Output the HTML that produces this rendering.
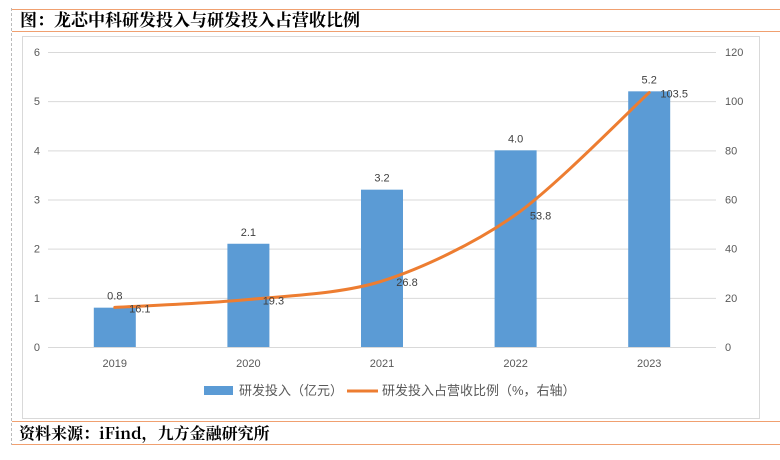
<!DOCTYPE html>
<html><head><meta charset="utf-8"><style>
body{margin:0;background:#fff;width:780px;height:455px;overflow:hidden;font-family:"Liberation Sans","Noto Sans CJK SC",sans-serif}
</style></head><body>
<svg width="780" height="455" xmlns="http://www.w3.org/2000/svg">
<line x1="11.5" y1="8" x2="11.5" y2="445" stroke="#bbb" stroke-dasharray="3,2"/>
<line x1="12" y1="9.5" x2="780" y2="9.5" stroke="#f0a070"/>
<line x1="12" y1="31.5" x2="780" y2="31.5" stroke="#f0a070"/>
<text x="20" y="26" font-size="17" font-weight="bold" fill="#000" font-family="'Noto Serif CJK SC','Noto Sans CJK SC',serif">图：龙芯中科研发投入与研发投入占营收比例</text>
<rect x="22.5" y="36.5" width="737" height="382" fill="#fff" stroke="#d9d9d9"/>
<g id="grid"></g><g id="bars"></g><g id="line"></g><g id="labels"></g>
<rect x="204" y="386" width="29" height="9" fill="#5b9bd5"/>
<text x="239" y="395" font-size="13" fill="#595959">研发投入（亿元）</text>
<line x1="347" y1="391" x2="378" y2="391" stroke="#ed7d31" stroke-width="3"/>
<text x="382" y="395" font-size="13" fill="#595959">研发投入占营收比例（%，右轴）</text>
<line x1="12" y1="421.5" x2="780" y2="421.5" stroke="#f0a070"/>
<line x1="12" y1="444.5" x2="780" y2="444.5" stroke="#f0a070"/>
<text x="19" y="439" font-size="16" font-weight="bold" fill="#000" font-family="'Noto Serif CJK SC','Noto Sans CJK SC',serif">资料来源：iFind，九方金融研究所</text>
</svg>
<script>
const categories=["2019","2020","2021","2022","2023"];
const investment=[0.8,2.1,3.2,4.0,5.2];
const ratio=[16.1,19.3,26.8,53.8,103.5];
const leftTicks=[0,1,2,3,4,5,6];
const rightTicks=[0,20,40,60,80,100,120];
const NS="http://www.w3.org/2000/svg";
const x0=48,x1=716,yTop=52,yBot=347;
const step=(x1-x0)/categories.length;
const xc=i=>x0+step*(i+0.5);
const yL=v=>yBot-(v/6)*(yBot-yTop);
const yR=v=>yBot-(v/120)*(yBot-yTop);
function mk(p,tag,at){const e=document.createElementNS(NS,tag);for(const k in at)e.setAttribute(k,at[k]);document.getElementById(p).appendChild(e);return e;}
leftTicks.forEach((t,i)=>{
 const g=mk("grid","line",{x1:x0,x2:x1,y1:yL(t)+.5,y2:yL(t)+.5,stroke:"#d9d9d9"});
 
 
 const l=mk("grid","text",{x:40,y:yL(t)+4,"font-size":11,fill:"#595959","text-anchor":"end"});l.textContent=t;
 
 
});
rightTicks.forEach(t=>{
 const l=mk("grid","text",{x:725,y:yR(t)+4,"font-size":11,fill:"#595959"});l.textContent=t;
 
 
});
categories.forEach((c,i)=>{
 const l=mk("grid","text",{x:xc(i),y:367,"font-size":11,fill:"#595959","text-anchor":"middle"});l.textContent=c;
 
 
 const b=mk("bars","rect",{x:xc(i)-21,y:yL(investment[i]),width:42,height:yBot-yL(investment[i]),fill:"#5b9bd5"});
 
 
 const bl=mk("labels","text",{x:xc(i),y:yL(investment[i])-8,"font-size":11,fill:"#404040","text-anchor":"middle"});bl.textContent=investment[i].toFixed(1);
 
 
 const ll=mk("labels","text",{x:xc(i)+25,y:yR(ratio[i])+5,"font-size":11,fill:"#404040","text-anchor":"middle"});ll.textContent=ratio[i].toFixed(1);
 
 
});
const pts=ratio.map((v,i)=>[xc(i),yR(v)]);
let d="M"+pts[0][0]+","+pts[0][1];
for(let i=0;i<pts.length-1;i++){
 const p0=pts[i-1]||pts[i],p1=pts[i],p2=pts[i+1],p3=pts[i+2]||p2;
 const t=0.15;
 d+=" C"+(p1[0]+(p2[0]-p0[0])*t)+","+(p1[1]+(p2[1]-p0[1])*t)+" "+(p2[0]-(p3[0]-p1[0])*t)+","+(p2[1]-(p3[1]-p1[1])*t)+" "+p2[0]+","+p2[1];
}
const path=mk("line","path",{d:d,fill:"none",stroke:"#ed7d31","stroke-width":3,"stroke-linecap":"round"});


</script>
</body></html>
